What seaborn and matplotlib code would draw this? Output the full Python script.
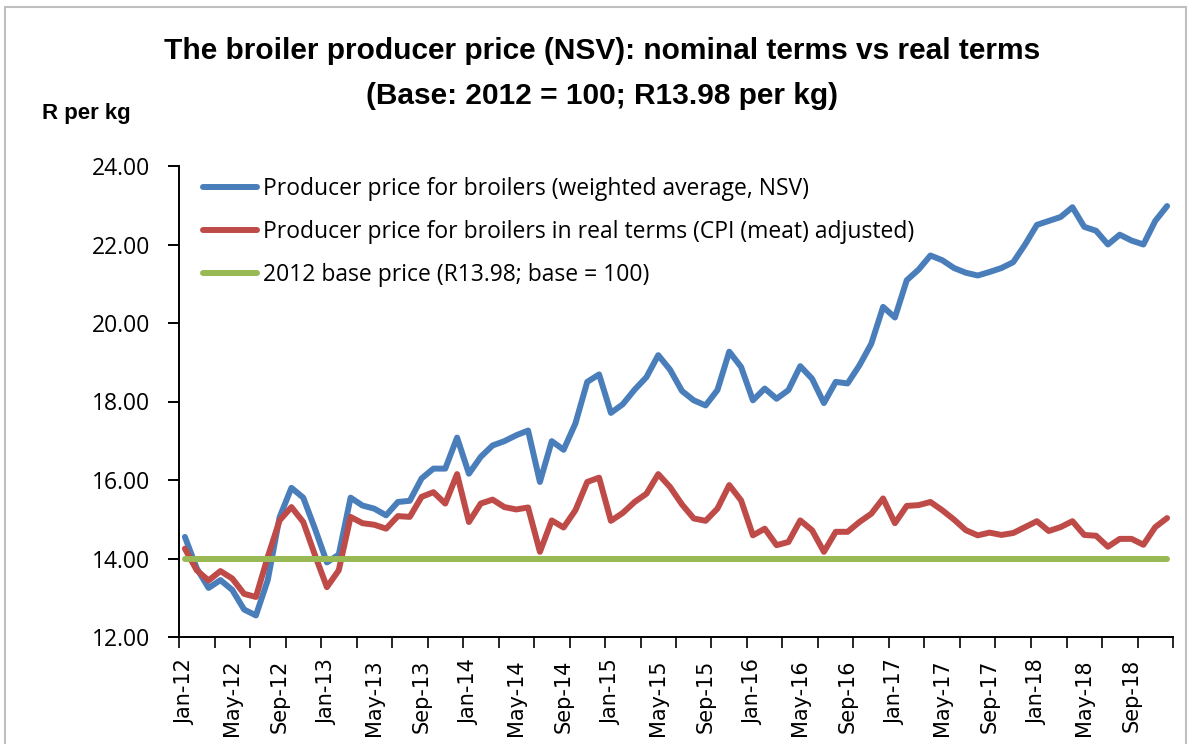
import matplotlib
matplotlib.use("Agg")
import matplotlib.pyplot as plt
import seaborn as sns
import pandas as pd
from matplotlib.lines import Line2D


# ============================================================
# DATA  (monthly, Jan-12 .. Dec-18, R per kg)
# ============================================================

months = pd.date_range("2012-01-01", "2018-12-01", freq="MS")
month_labels = [d.strftime("%b-%y") for d in months]

nominal_price = [
    14.55, 13.75, 13.25, 13.45, 13.20, 12.70, 12.55, 13.45, 15.05, 15.80,
    15.55, 14.75, 13.90, 14.10, 15.55, 15.35, 15.27, 15.10, 15.44, 15.47,
    16.04, 16.29, 16.29, 17.08, 16.16, 16.59, 16.88, 16.99, 17.14, 17.26,
    15.95, 16.99, 16.77, 17.44, 18.50, 18.69, 17.71, 17.93, 18.30, 18.62,
    19.18, 18.81, 18.27, 18.03, 17.90, 18.29, 19.27, 18.88, 18.03, 18.33,
    18.07, 18.29, 18.90, 18.58, 17.96, 18.50, 18.46, 18.92, 19.47, 20.41,
    20.14, 21.09, 21.36, 21.72, 21.60, 21.40, 21.28, 21.21, 21.30, 21.40,
    21.55, 22.00, 22.50, 22.60, 22.70, 22.95, 22.45, 22.35, 22.00, 22.25,
    22.10, 22.00, 22.60, 22.98,
]

real_price = [
    14.25, 13.70, 13.44, 13.68, 13.49, 13.10, 13.02, 14.04, 14.97, 15.31,
    14.93, 14.08, 13.27, 13.70, 15.06, 14.90, 14.86, 14.76, 15.08, 15.06,
    15.57, 15.69, 15.40, 16.15, 14.93, 15.40, 15.50, 15.31, 15.25, 15.30,
    14.17, 14.97, 14.79, 15.23, 15.95, 16.06, 14.96, 15.16, 15.44, 15.65,
    16.15, 15.82, 15.38, 15.02, 14.96, 15.27, 15.87, 15.48, 14.59, 14.76,
    14.34, 14.42, 14.97, 14.72, 14.17, 14.68, 14.68, 14.93, 15.14, 15.53,
    14.90, 15.34, 15.36, 15.44, 15.23, 14.99, 14.72, 14.59, 14.66, 14.60,
    14.65, 14.80, 14.95, 14.70, 14.80, 14.95, 14.60, 14.58, 14.30, 14.50,
    14.50, 14.35, 14.80, 15.03,
]

base_price = 13.98

series_names = [
    "Producer price for broilers (weighted average, NSV)",
    "Producer price for broilers in real terms (CPI (meat) adjusted)",
    "2012 base price (R13.98; base = 100)",
]
series_colors = ["#4A7EBB", "#BE4B48", "#98B954"]

y_ticks = [12, 14, 16, 18, 20, 22, 24]

df = pd.DataFrame({
    "pos": range(len(months)),
    "nominal": nominal_price,
    "real": real_price,
    "base": [base_price] * len(months),
})


# ============================================================
# CHART
# ============================================================

sns.set_style("white")
plt.rcParams["font.family"] = ["Open Sans", "DejaVu Sans"]
plt.rcParams["text.color"] = "black"

W, H = 1192, 744
fig = plt.figure(figsize=(W / 100, H / 100), dpi=100)

# chart-area border (light grey, like the Excel chart frame)
border = dict(transform=fig.transFigure, color="#BFBFBF", linewidth=1.5)
fig.add_artist(Line2D([5 / W, 5 / W], [0, 1 - 7 / H], **border))
fig.add_artist(Line2D([5 / W, 1186 / W], [1 - 7 / H, 1 - 7 / H], **border))
fig.add_artist(Line2D([1186 / W, 1186 / W], [0, 1 - 7 / H], **border))

ax = fig.add_axes([179 / W, 1 - 637 / H, (1173 - 179) / W, (637 - 166) / H])

for col, name, color in zip(["nominal", "real", "base"], series_names, series_colors):
    sns.lineplot(
        data=df,
        x="pos",
        y=col,
        ax=ax,
        color=color,
        linewidth=4.3,
        label=name,
        solid_joinstyle="round",
        solid_capstyle="round",
    )

ax.set_xlim(-0.5, len(months) - 0.5)
ax.set_ylim(12, 24)

# y axis
ax.set_yticks(y_ticks)
ax.set_yticklabels([f"{v:.2f}" for v in y_ticks], fontsize=16.5)
ax.tick_params(axis="y", direction="out", length=8, width=1.4, pad=13,
               left=True, colors="black")

# x axis: tick marks every 3 months, labels every 4 months
label_pos = list(range(0, len(months), 4))
ax.set_xticks(label_pos)
ax.set_xticklabels([month_labels[i] for i in label_pos], rotation=90,
                   fontsize=15, family="DejaVu Sans")
ax.set_xticks([p - 0.5 for p in range(0, len(months) + 1, 3)], minor=True)
ax.tick_params(axis="x", which="major", length=0, pad=16, colors="black")
ax.tick_params(axis="x", which="minor", direction="out", length=8, width=1.4,
               bottom=True)

ax.set_xlabel("")
ax.set_ylabel("")

for side in ["top", "right"]:
    ax.spines[side].set_visible(False)
for side in ["left", "bottom"]:
    ax.spines[side].set_color("black")
    ax.spines[side].set_linewidth(1.4)

ax.legend(
    loc="upper left",
    bbox_to_anchor=(203 / W, 1 - 177 / H),
    bbox_transform=fig.transFigure,
    frameon=False,
    fontsize=16.5,
    handlelength=2.35,
    handletextpad=0.25,
    labelspacing=0.82,
    borderpad=0,
    borderaxespad=0,
)

# titles
title_font = ["Liberation Sans", "DejaVu Sans"]
fig.text(0.505, 1 - 51 / H,
         "The broiler producer price (NSV): nominal terms vs real terms",
         ha="center", va="center", fontsize=21.5, fontweight="bold",
         family=title_font, color="black")
fig.text(0.505, 1 - 96 / H,
         "(Base: 2012 = 100; R13.98 per kg)",
         ha="center", va="center", fontsize=21.5, fontweight="bold",
         family=title_font, color="black")
fig.text(42 / W, 1 - 113 / H, "R per kg",
         ha="left", va="center", fontsize=16, fontweight="bold",
         family=title_font, color="black")

plt.savefig("out.png", dpi=100)
plt.close()
